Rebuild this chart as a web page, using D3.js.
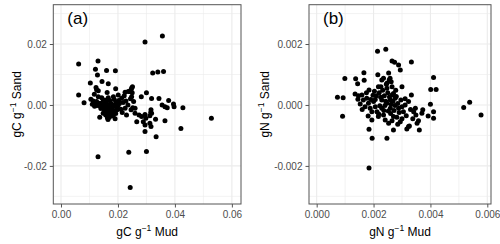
<!DOCTYPE html>
<html>
<head>
<meta charset="utf-8">
<script src="https://cdn.jsdelivr.net/npm/d3@7"></script>
<style>
  body { margin: 0; background: #fff; }
  svg { font-family: "Liberation Sans", Arial, sans-serif; }
</style>
</head>
<body>
<script>
// panel (a): carbon, panel (b): nitrogen
const mudC = [0.0062,0.0062,0.0081,0.0130,0.0121,0.0128,0.0103,0.0144,0.0160,0.0191,0.0166,0.0123,0.0125,0.0131,0.0192,0.0162,0.0117,0.0105,0.0113,0.0110,0.0131,0.0143,0.0125,0.0137,0.0148,0.0160,0.0166,0.0184,0.0201,0.0213,0.0225,0.0236,0.0248,0.0295,0.0356,0.0322,0.0340,0.0360,0.0251,0.0246,0.0241,0.0250,0.0248,0.0255,0.0300,0.0282,0.0318,0.0344,0.0378,0.0355,0.0365,0.0373,0.0395,0.0397,0.0428,0.0225,0.0230,0.0246,0.0260,0.0260,0.0274,0.0283,0.0295,0.0298,0.0312,0.0318,0.0266,0.0289,0.0295,0.0312,0.0316,0.0332,0.0365,0.0421,0.0528,0.0334,0.0295,0.0130,0.0238,0.0300,0.0243,0.0316,0.0315,0.0197,0.0215,0.0252,0.0120,0.0127,0.0133,0.0138,0.0142,0.0146,0.0150,0.0152,0.0155,0.0158,0.0160,0.0162,0.0165,0.0167,0.0170,0.0172,0.0175,0.0177,0.0180,0.0183,0.0185,0.0188,0.0190,0.0193,0.0196,0.0200,0.0205,0.0210,0.0218,0.0136,0.0157,0.0148,0.0170,0.0155,0.0163,0.0178,0.0140,0.0118,0.0150,0.0171,0.0187,0.0203,0.0222,0.0244,0.0192,0.0182,0.0165,0.0235,0.0228]
const sandC = [0.0134,0.0033,0.0007,0.0144,0.0117,0.0098,0.0072,0.0077,0.0113,0.0112,0.0070,0.0057,0.0050,0.0047,0.0053,0.0041,0.0035,0.0019,0.0013,0.0002,0.0027,0.0024,0.0011,0.0006,0.0011,0.0016,0.0024,0.0027,0.0033,0.0022,0.0042,0.0044,0.0056,0.0207,0.0226,0.0105,0.0108,0.0110,0.0060,0.0050,0.0044,0.0040,0.0027,0.0011,0.0040,0.0027,0.0021,0.0021,0.0015,0.0000,-0.0006,-0.0009,0.0003,-0.0006,-0.0009,-0.0011,-0.0033,-0.0016,-0.0011,-0.0027,-0.0033,-0.0038,-0.0031,-0.0044,-0.0035,-0.0027,-0.0055,-0.0055,-0.0066,-0.0060,-0.0071,-0.0047,-0.0052,-0.0077,-0.0044,-0.0104,-0.0087,-0.0170,-0.0155,-0.0153,-0.0271,-0.0016,-0.0025,-0.0016,-0.0025,-0.0009,0.0005,-0.0002,0.0003,-0.0004,0.0002,-0.0008,0.0004,-0.0015,-0.0003,0.0008,-0.0022,-0.0010,0.0001,-0.0030,-0.0016,-0.0005,0.0006,-0.0025,-0.0012,-0.0036,0.0000,-0.0020,-0.0045,0.0010,-0.0008,-0.0003,0.0005,-0.0014,0.0008,-0.0040,-0.0033,-0.0027,-0.0040,-0.0018,-0.0042,-0.0031,-0.0012,-0.0004,0.0016,0.0015,0.0018,0.0015,0.0030,0.0020,-0.0028,-0.0005,-0.0048,0.0000,0.0013]

const mudN = [0.00073,0.00093,0.00091,0.00099,0.00137,0.00166,0.00167,0.00144,0.00184,0.00214,0.00243,0.00265,0.00274,0.00288,0.00294,0.00333,0.00215,0.00253,0.00255,0.00262,0.00229,0.00217,0.00247,0.00300,0.00333,0.00411,0.00401,0.00420,0.00400,0.00411,0.00411,0.00392,0.00370,0.00373,0.00347,0.00341,0.00358,0.00353,0.00323,0.00317,0.00270,0.00294,0.00265,0.00247,0.00361,0.00517,0.00538,0.00578,0.00184,0.00195,0.00184,0.00311,0.00323,0.00311,0.00300,0.00288,0.00276,0.00265,0.00247,0.00135,0.00147,0.00159,0.00145,0.00164,0.00153,0.00176,0.00182,0.00170,0.00188,0.00200,0.00206,0.00194,0.00212,0.00229,0.00217,0.00235,0.00241,0.00194,0.00259,0.00270,0.00229,0.00247,0.00259,0.00270,0.00253,0.00326,0.00181,0.00349,0.00220,0.00225,0.00232,0.00238,0.00243,0.00250,0.00256,0.00262,0.00268,0.00275,0.00280,0.00285,0.00290,0.00282,0.00260,0.00236,0.00222,0.00210,0.00203,0.00198,0.00240,0.00252,0.00272,0.00296,0.00305,0.00315,0.00300,0.00226,0.00190,0.00206,0.00245,0.00278,0.00258,0.00330,0.00338,0.00285,0.00218,0.00235,0.00160,0.00175,0.00265]
const sandN = [0.00025,0.00024,-0.00037,0.00087,0.00086,0.00106,0.00081,0.00070,0.00049,0.00176,0.00183,0.00144,0.00140,0.00131,0.00115,0.00141,0.00099,0.00105,0.00082,0.00076,0.00082,0.00060,0.00071,0.00060,0.00033,0.00090,0.00051,0.00051,0.00002,-0.00022,-0.00044,-0.00036,-0.00027,-0.00016,-0.00011,-0.00022,-0.00052,-0.00060,-0.00071,-0.00079,-0.00082,-0.00055,-0.00052,-0.00109,-0.00082,-0.00008,0.00009,-0.00033,-0.00080,-0.00109,-0.00207,0.00020,0.00011,0.00000,-0.00006,-0.00011,0.00022,0.00033,0.00055,0.00036,0.00030,0.00033,0.00019,0.00016,0.00003,0.00022,0.00006,-0.00006,-0.00011,0.00011,-0.00006,-0.00022,-0.00022,-0.00011,-0.00038,-0.00033,-0.00049,-0.00049,0.00016,0.00038,0.00016,0.00006,-0.00011,-0.00038,-0.00060,-0.00069,-0.00036,-0.00033,0.00040,0.00025,0.00048,0.00030,0.00012,0.00040,0.00026,0.00002,0.00012,-0.00002,0.00028,0.00005,-0.00025,-0.00040,-0.00028,-0.00018,-0.00003,0.00030,0.00045,0.00032,-0.00002,-0.00020,-0.00018,0.00016,-0.00022,-0.00035,-0.00045,0.00060,0.00018,0.00018,0.00068,0.00048,0.00088,-0.00015,-0.00045,-0.00063,-0.00030,0.00088,-0.00015,0.00040,0.00060]

const ticksC = [0, 0.02, 0.04, 0.06]
const ticksCy = [-0.02, 0, 0.02]
const ticksN = [0, 0.002, 0.004, 0.006]
const ticksNy = [-0.002, 0, 0.002]

const svg = d3.select('body').append('svg')
    .attr('width', 500)
    .attr('height', 244)

function drawPanel(opts) {
    const x = d3.scaleLinear().domain(opts.xDomain).range([opts.left, opts.right])
    const y = d3.scaleLinear().domain(opts.yDomain).range([204, 4.7])
    const g = svg.append('g')

    // minor + major grid
    const mid = a => a.slice(1).map((v, i) => (v + a[i]) / 2)
    const stepX = opts.xTicks[1] - opts.xTicks[0]
    const stepY = opts.yTicks[1] - opts.yTicks[0]
    const minorX = mid(opts.xTicks).concat([opts.xTicks[0] - stepX / 2, opts.xTicks[opts.xTicks.length - 1] + stepX / 2])
        .filter(v => v > opts.xDomain[0] && v < opts.xDomain[1])
    const minorY = mid(opts.yTicks).concat([opts.yTicks[0] - stepY / 2, opts.yTicks[opts.yTicks.length - 1] + stepY / 2])
        .filter(v => v > opts.yDomain[0] && v < opts.yDomain[1])

    g.selectAll('.minx').data(minorX).enter().append('line')
        .attr('x1', d => x(d)).attr('x2', d => x(d))
        .attr('y1', y.range()[0]).attr('y2', y.range()[1])
        .attr('stroke', '#ebebeb').attr('stroke-width', 0.6)
    g.selectAll('.miny').data(minorY).enter().append('line')
        .attr('y1', d => y(d)).attr('y2', d => y(d))
        .attr('x1', opts.left).attr('x2', opts.right)
        .attr('stroke', '#ebebeb').attr('stroke-width', 0.6)
    g.selectAll('.majx').data(opts.xTicks).enter().append('line')
        .attr('x1', d => x(d)).attr('x2', d => x(d))
        .attr('y1', y.range()[0]).attr('y2', y.range()[1])
        .attr('stroke', '#ebebeb').attr('stroke-width', 1.1)
    g.selectAll('.majy').data(opts.yTicks).enter().append('line')
        .attr('y1', d => y(d)).attr('y2', d => y(d))
        .attr('x1', opts.left).attr('x2', opts.right)
        .attr('stroke', '#ebebeb').attr('stroke-width', 1.1)

    // points
    g.selectAll('circle').data(opts.xs).enter().append('circle')
        .attr('cx', d => x(d))
        .attr('cy', (d, i) => y(opts.ys[i]))
        .attr('r', 2.5)
        .attr('fill', '#000')

    // border
    g.append('rect')
        .attr('x', opts.left).attr('y', 4.7)
        .attr('width', opts.right - opts.left).attr('height', 204 - 4.7)
        .attr('fill', 'none').attr('stroke', '#555').attr('stroke-width', 1)

    const xAxis = d3.axisBottom(x).tickValues(opts.xTicks).tickFormat(d3.format(opts.fmt))
        .tickSize(3.5).tickPadding(3)
    const xg = g.append('g').attr('transform', 'translate(0,204)').call(xAxis)
    xg.select('.domain').remove()
    xg.selectAll('line').attr('stroke', '#555')
    xg.selectAll('text').attr('fill', '#4d4d4d').attr('font-size', 10)
        .text(d => d3.format(opts.fmt)(d).replace('−', '-'))

    const yAxis = d3.axisLeft(y).tickValues(opts.yTicks).tickFormat(d3.format(opts.fmt))
        .tickSize(3.5).tickPadding(3)
    const yg = g.append('g').attr('transform', `translate(${opts.left},0)`).call(yAxis)
    yg.select('.domain').remove()
    yg.selectAll('line').attr('stroke', '#555')
    yg.selectAll('text').attr('fill', '#4d4d4d').attr('font-size', 10)
        .text(d => d3.format(opts.fmt)(d).replace('−', '-'))

    // panel tag
    g.append('text')
        .attr('x', opts.left + 14).attr('y', 24)
        .attr('font-size', 17)
        .text(opts.tag)

    // axis titles
    const xt = g.append('text')
        .attr('x', (opts.left + opts.right) / 2).attr('y', 236)
        .attr('text-anchor', 'middle').attr('font-size', 12)
    xt.append('tspan').text(opts.el + ' g')
    xt.append('tspan').attr('dy', -5).attr('font-size', 8.5).text('−1')
    xt.append('tspan').attr('dy', 5).text(' Mud')

    const yt = g.append('text')
        .attr('transform', `translate(${opts.yTitleX},${(4.7 + 204) / 2}) rotate(-90)`)
        .attr('text-anchor', 'middle').attr('font-size', 12)
    yt.append('tspan').text(opts.el + ' g')
    yt.append('tspan').attr('dy', -5).attr('font-size', 8.5).text('−1')
    yt.append('tspan').attr('dy', 5).text(' Sand')
}

drawPanel({
    left: 53.3, right: 241, xDomain: [-0.0027, 0.0632], yDomain: [-0.0325, 0.0329],
    xTicks: ticksC, yTicks: ticksCy, xs: mudC, ys: sandC, fmt: '.2f',
    tag: '(a)', el: 'gC', yTitleX: 21
})
drawPanel({
    left: 309, right: 491, xDomain: [-0.00027, 0.00613], yDomain: [-0.00325, 0.00329],
    xTicks: ticksN, yTicks: ticksNy, xs: mudN, ys: sandN, fmt: '.3f',
    tag: '(b)', el: 'gN', yTitleX: 269
})
</script>
</body>
</html>
